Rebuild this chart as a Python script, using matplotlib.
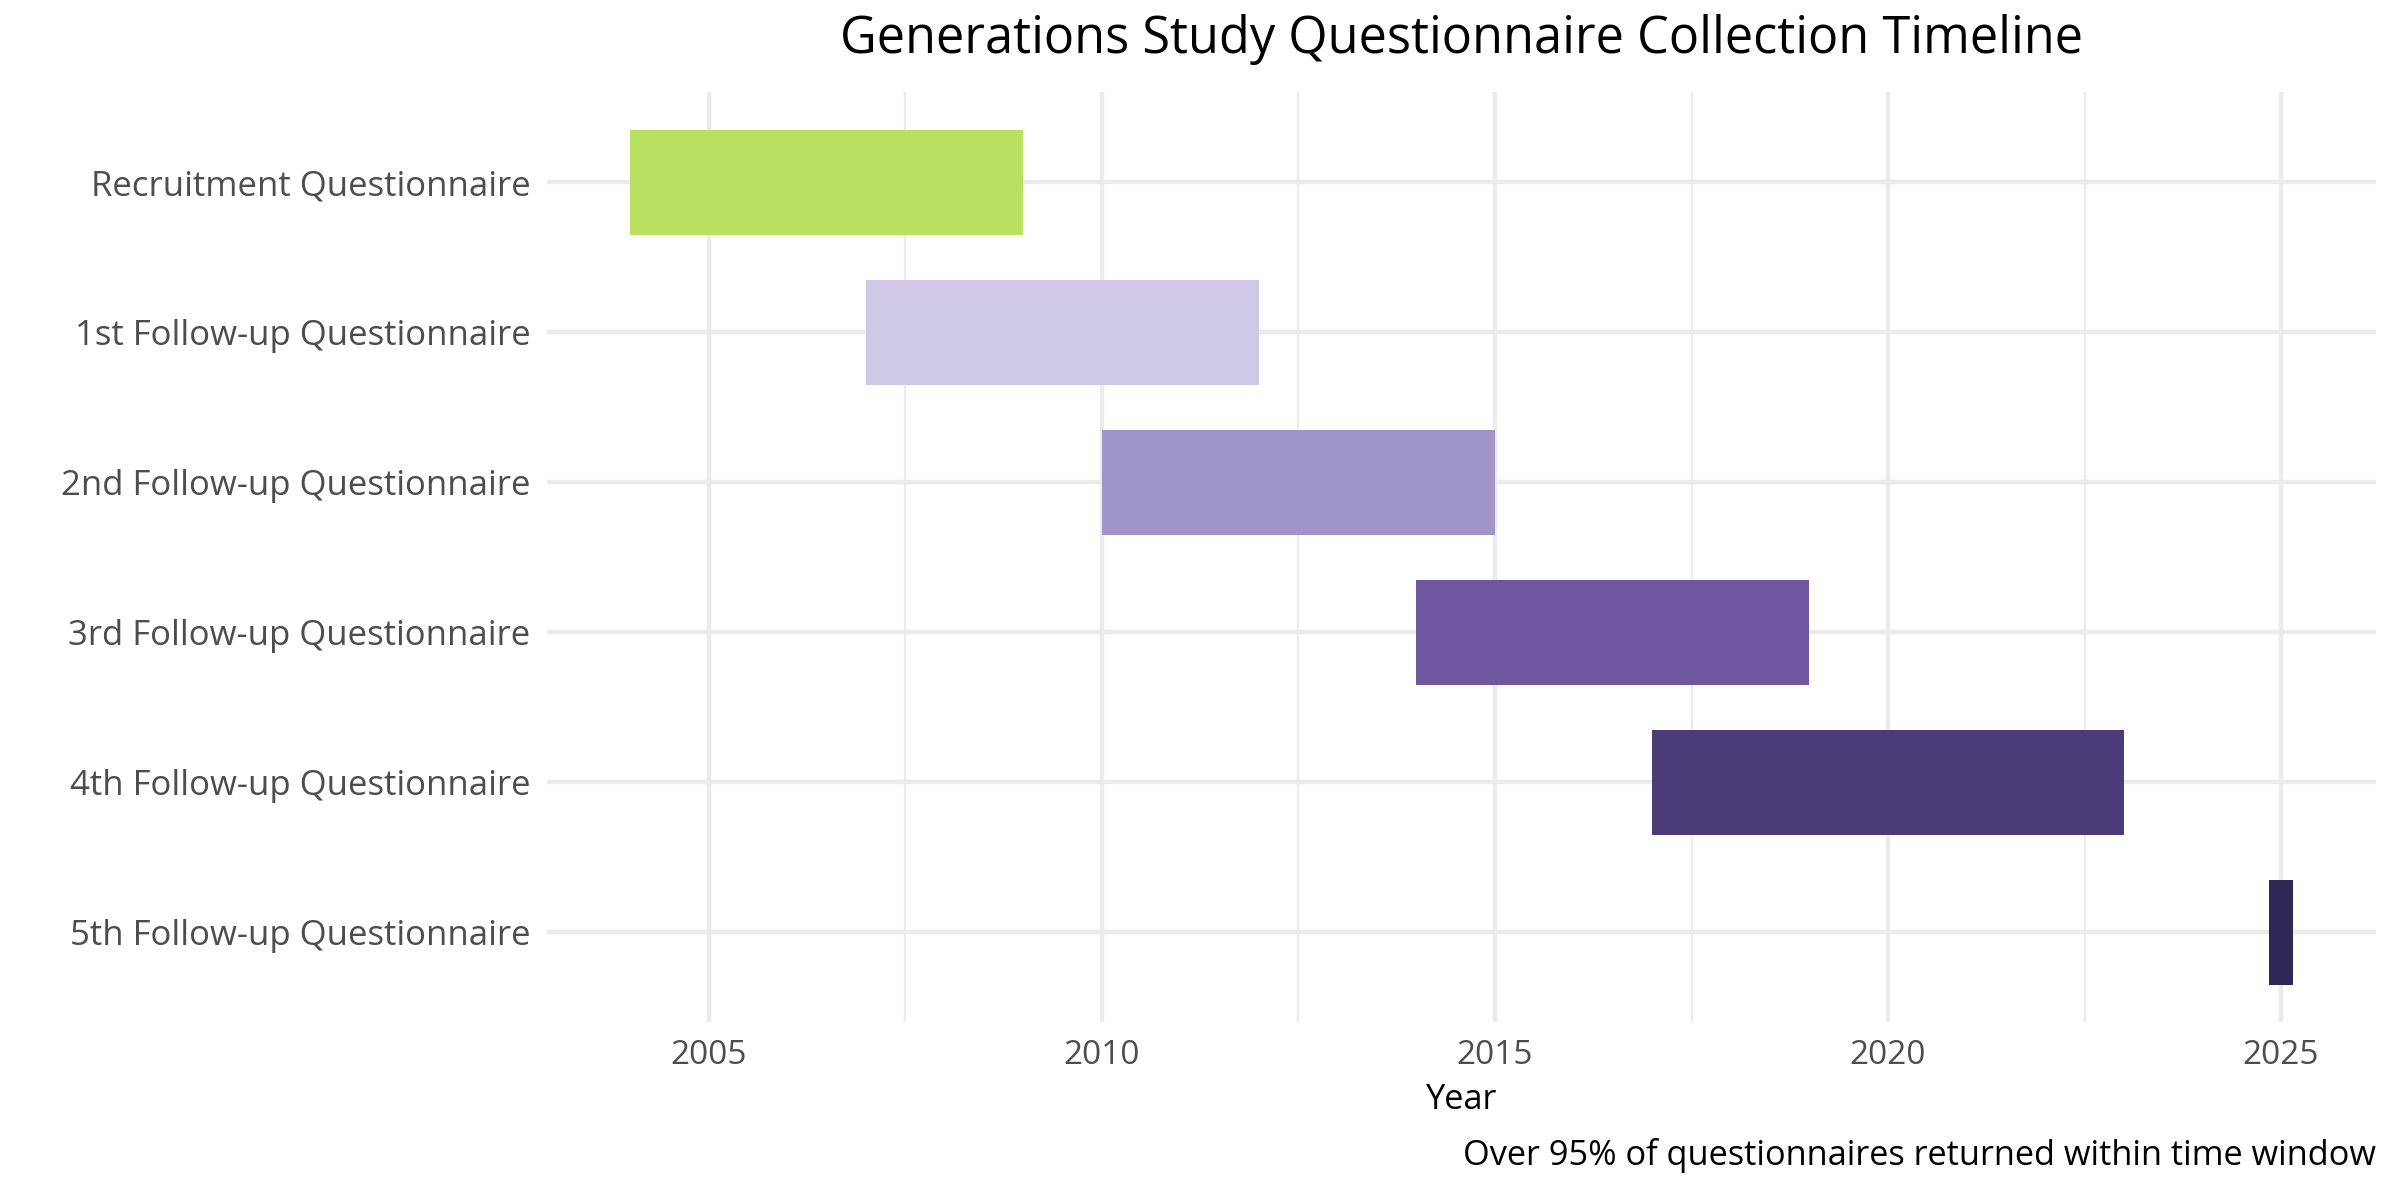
import matplotlib.pyplot as plt
from matplotlib.ticker import MultipleLocator

plt.rcParams['font.family'] = ['Open Sans', 'DejaVu Sans']

# questionnaire windows (years)
etapas = [
    "Recruitment Questionnaire",
    "1st Follow-up Questionnaire",
    "2nd Follow-up Questionnaire",
    "3rd Follow-up Questionnaire",
    "4th Follow-up Questionnaire",
    "5th Follow-up Questionnaire",
]
inicio = [2004, 2007, 2010, 2014, 2017, 2024.85]
fin = [2009, 2012, 2015, 2019, 2023, 2025.15]
colores = ["#BAE05F", "#CEC8E5", "#9F95CA", "#6E579F", "#4A3C78", "#2F2756"]

fig = plt.figure(figsize=(12, 6), dpi=200)
ax = fig.add_axes([0.228, 0.148, 0.762, 0.775])

posiciones = list(range(len(etapas)))[::-1]
anchos = [f - i for i, f in zip(inicio, fin)]
ax.barh(posiciones, anchos, left=inicio, height=0.7, color=colores, zorder=3)

ax.set_ylim(-0.6, len(etapas) - 0.4)
ax.set_yticks(posiciones)
ax.set_yticklabels(etapas)

rango = max(fin) - min(inicio)
ax.set_xlim(min(inicio) - 0.05 * rango, max(fin) + 0.05 * rango)
ax.xaxis.set_major_locator(MultipleLocator(5))
ax.xaxis.set_minor_locator(MultipleLocator(2.5))

ax.grid(True, which='major', color='#EBEBEB', linewidth=1.6, zorder=0)
ax.grid(True, which='minor', axis='x', color='#EBEBEB', linewidth=0.8, zorder=0)
ax.tick_params(axis='both', which='both', length=0, labelcolor='#4D4D4D')
ax.tick_params(axis='y', pad=6, labelsize=12.5)
ax.tick_params(axis='x', pad=6, labelsize=12)
for s in ax.spines.values():
    s.set_visible(False)

ax.set_xlabel("Year", fontsize=12.4, color='black', labelpad=4)
fig.text(0.609, 0.967, "Generations Study Questionnaire Collection Timeline",
         ha='center', va='center', fontsize=18.2)
fig.text(0.990, 0.037, "Over 95% of questionnaires returned within time window",
         ha='right', va='center', fontsize=12.4)

plt.savefig("out.png")
